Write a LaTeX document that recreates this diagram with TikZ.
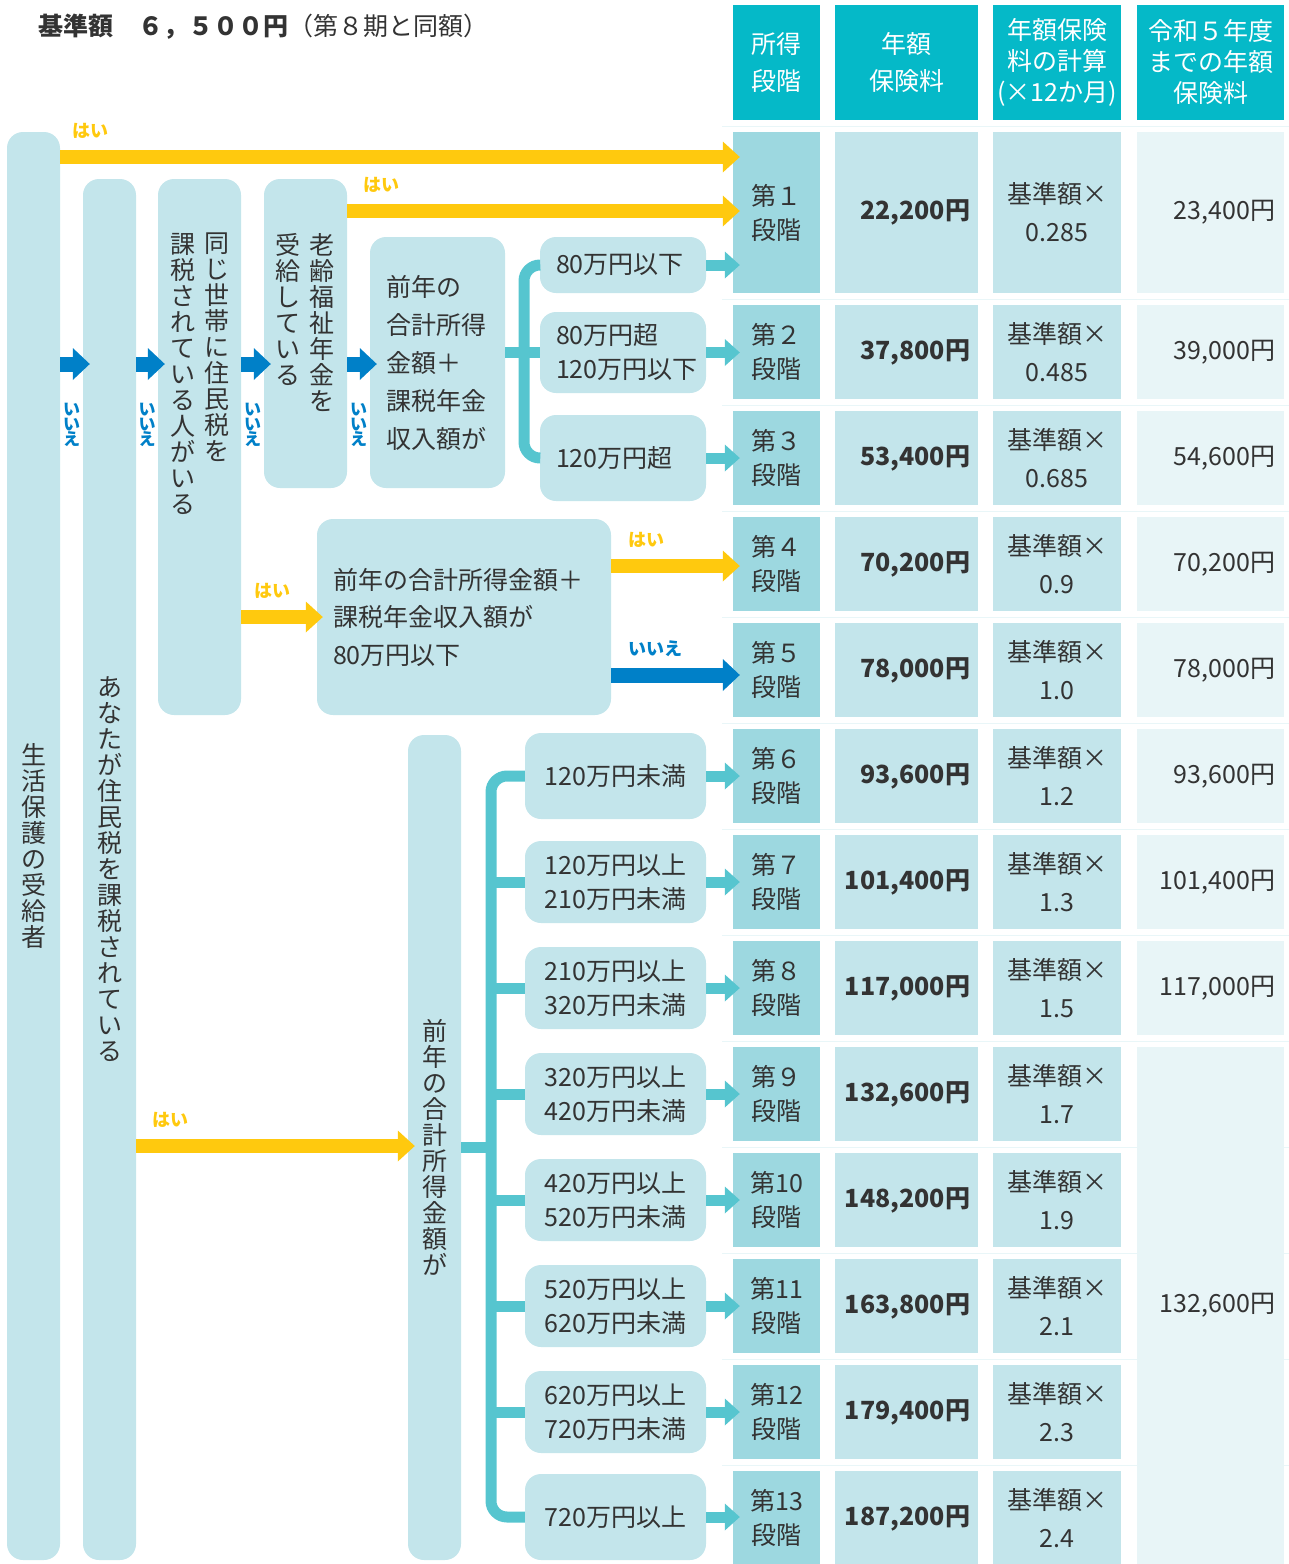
\documentclass[tikz,border=0pt]{standalone}
\usepackage{fontspec}
\setmainfont{Noto Sans CJK JP}
\usetikzlibrary{arrows.meta,positioning}

\definecolor{boxc}{HTML}{C3E5EB}
\definecolor{danc}{HTML}{9DD8E0}
\definecolor{headc}{HTML}{05B9C8}
\definecolor{oldc}{HTML}{E8F5F7}
\definecolor{haic}{HTML}{FFC90E}
\definecolor{iiec}{HTML}{0080C8}
\definecolor{linec}{HTML}{56C5CF}
\definecolor{textc}{HTML}{333333}

\begin{document}
\begin{tikzpicture}[
    x=1pt, y=-1pt,
    every node/.style={text=textc, font=\fontsize{25}{38}\selectfont},
    flowbox/.style={rectangle, rounded corners=16pt, fill=boxc, inner sep=0pt},
    tate/.style={align=center, inner sep=0pt, font=\fontsize{25}{26}\selectfont},
    rangebox/.style={flowbox, text width=134pt, inner xsep=16pt, align=left, font=\fontsize{25}{34}\selectfont},
    incomebox/.style={flowbox, minimum width=181pt, minimum height=82pt, align=center, font=\fontsize{25}{34}\selectfont},
    cell/.style={rectangle, inner sep=0pt, minimum height=94pt},
    dancell/.style={cell, fill=danc, minimum width=87pt, align=center, font=\fontsize{25}{34}\selectfont},
    amtcell/.style={cell, fill=boxc, text width=127pt, inner xsep=8pt, align=right, font=\fontsize{25}{34}\selectfont\bfseries},
    ratecell/.style={cell, fill=boxc, minimum width=128pt, align=center},
    oldcell/.style={cell, fill=oldc, text width=129pt, inner xsep=9pt, align=right},
    headcell/.style={rectangle, fill=headc, text=white, minimum height=115pt, inner sep=0pt, align=center, font=\fontsize{25}{31}\selectfont},
    yarrow/.style={draw=haic, line width=14pt, -{Triangle[length=17pt,width=31pt,line width=0pt]}, shorten >=-7pt},
    barrow/.style={draw=iiec, line width=15pt, -{Triangle[length=17pt,width=32pt,line width=0pt]}, shorten >=-7pt},
    carrow/.style={draw=linec, line width=11pt, -{Triangle[length=15pt,width=27pt,line width=0pt]}, shorten >=-7pt},
    cline/.style={draw=linec, line width=11pt},
    hai/.style={text=haic, font=\fontsize{18}{18}\selectfont\bfseries, anchor=south west, inner sep=0pt, xshift=6pt, yshift=11pt},
    iie/.style={text=iiec, align=center, inner sep=0pt, font=\fontsize{17}{15}\selectfont\bfseries, anchor=north, yshift=-32pt},
    gridline/.style={draw=danc!22, line width=0.8pt}
  ]
  \useasboundingbox (0,0) rectangle (1289,1564);

  % Title
  \node[anchor=west, font=\fontsize{25}{25}\selectfont] (title) at (35,27) {\textbf{基準額　６，５００円}（第８期と同額）};

  % Table header
  \node[headcell, minimum width=87pt, font=\fontsize{25}{37}\selectfont] (h1) at (776.5,62.5) {所得\\段階};
  \node[headcell, minimum width=143pt, font=\fontsize{25}{37}\selectfont] (h2) at (906.5,62.5) {年額\\保険料};
  \node[headcell, minimum width=128pt] (h3) at (1057,62.5) {年額保険\\料の計算\\(×12か月)};
  \node[headcell, minimum width=147pt] (h4) at (1210.5,62.5) {令和５年度\\までの年額\\保険料};

  % Table rows
  \draw[gridline] (722,126) -- (1289,126);
  \foreach \k in {0,...,11}
    \draw[gridline] (722,{299+\k*106}) -- (1289,{299+\k*106});

  \node[dancell, minimum height=161pt] (d1) at (776.5,212.5) {第１\\段階};
  \node[amtcell, minimum height=161pt] (a1) at (906.5,212.5) {22,200円};
  \node[ratecell, minimum height=161pt] (k1) at (1057,212.5) {基準額×\\0.285};
  \node[oldcell, minimum height=161pt] (o1) at (1210.5,212.5) {23,400円};

  \foreach \r/\dn/\amt/\rt in {2/第２/{37,800円}/0.485, 3/第３/{53,400円}/0.685, 4/第４/{70,200円}/0.9,
      5/第５/{78,000円}/1.0, 6/第６/{93,600円}/1.2, 7/第７/{101,400円}/1.3, 8/第８/{117,000円}/1.5,
      9/第９/{132,600円}/1.7, 10/第10/{148,200円}/1.9, 11/第11/{163,800円}/2.1,
      12/第12/{179,400円}/2.3, 13/第13/{187,200円}/2.4}{
    \node[dancell] (d\r) at (776.5,{352+(\r-2)*106}) {\dn\\段階};
    \node[amtcell] (a\r) at (906.5,{352+(\r-2)*106}) {\amt};
    \node[ratecell] (k\r) at (1057,{352+(\r-2)*106}) {基準額×\\\rt};
  }
  \foreach \r/\od in {2/{39,000円}, 3/{54,600円}, 4/{70,200円}, 5/{78,000円}, 6/{93,600円}, 7/{101,400円}, 8/{117,000円}}
    \node[oldcell] (o\r) at (1210.5,{352+(\r-2)*106}) {\od};
  \node[oldcell, minimum height=517pt] (o9) at (1210.5,1305.5) {132,600円};

  % Flow boxes
  \node[flowbox, tate, minimum width=53pt, minimum height=1428pt] (seikatsu) at (33.5,846) {生\\活\\保\\護\\の\\受\\給\\者};
  \node[flowbox, tate, minimum width=53pt, minimum height=1381pt] (kazei) at (109.5,869.5) {あ\\な\\た\\が\\住\\民\\税\\を\\課\\税\\さ\\れ\\て\\い\\る};
  \node[flowbox, minimum width=83pt, minimum height=536pt] (dokyo) at (199.5,447) {};
  \node[tate, anchor=north] (dokyoR) at (217,233) {同\\じ\\世\\帯\\に\\住\\民\\税\\を};
  \node[tate, anchor=north] (dokyoL) at (183,233) {課\\税\\さ\\れ\\て\\い\\る\\人\\が\\い\\る};
  \node[flowbox, minimum width=83pt, minimum height=309pt] (rorei) at (305.5,333.5) {};
  \node[tate, anchor=north] (roreiR) at (322,233) {老\\齢\\福\\祉\\年\\金\\を};
  \node[tate, anchor=north] (roreiL) at (288,233) {受\\給\\し\\て\\い\\る};
  \node[flowbox, minimum height=251pt, text width=103pt, inner xsep=16pt, align=left] (shotoku) at (437.5,362.5) {前年の\\合計所得\\金額＋\\課税年金\\収入額が};

  \node[rangebox, minimum height=56pt] (f1) at (623,265) {80万円以下};
  \node[rangebox, minimum height=81pt] (f2) at (623,352.5) {80万円超\\120万円以下};
  \node[rangebox, minimum height=86pt] (f3) at (623,458) {120万円超};

  \node[flowbox, minimum height=196pt, text width=262pt, inner xsep=16pt, align=left, font=\fontsize{25}{37.5}\selectfont] (kijun80) at (464,617) {前年の合計所得金額＋\\課税年金収入額が\\80万円以下};

  \node[flowbox, tate, minimum width=53pt, minimum height=825pt] (goukei) at (434.5,1147.5) {前\\年\\の\\合\\計\\所\\得\\金\\額\\が};

  \node[incomebox, minimum height=86pt] (i1) at (615.5,776) {120万円未満};
  \foreach \k/\lo/\hi in {2/120/210, 3/210/320, 4/320/420, 5/420/520, 6/520/620, 7/620/720}
    \node[incomebox] (i\k) at (615.5,{882+(\k-2)*106}) {\lo{}万円以上\\\hi{}万円未満};
  \node[incomebox, minimum height=86pt] (i8) at (615.5,1517) {720万円以上};

  % Connections
  \draw[barrow] (seikatsu.east |- 0,364) -- node[iie] {い\\い\\え} (kazei.west |- 0,364);
  \draw[barrow] (kazei.east |- 0,364) -- node[iie] {い\\い\\え} (dokyo.west |- 0,364);
  \draw[barrow] (dokyo.east |- 0,364) -- node[iie] {い\\い\\え} (rorei.west |- 0,364);
  \draw[barrow] (rorei.east |- 0,364) -- node[iie] {い\\い\\え} (shotoku.west |- 0,364);

  \draw[yarrow] (seikatsu.east |- 0,157) -- (d1.west |- 0,157) node[hai, pos=0, xshift=-1pt] {はい};
  \draw[yarrow] (rorei.east |- 0,211) -- (d1.west |- 0,211) node[hai, pos=0, xshift=3pt] {はい};
  \draw[yarrow, shorten >=-6pt] (dokyo.east |- 0,617) -- (kijun80.west |- 0,617) node[hai, pos=0] {はい};
  \draw[yarrow] (kijun80.east |- 0,566) -- (d4.west |- 0,566) node[hai, pos=0, xshift=4pt] {はい};
  \draw[barrow] (kijun80.east |- 0,675) -- (d5.west |- 0,675) node[hai, pos=0, xshift=4pt, text=iiec] {いいえ};
  \draw[yarrow] (kazei.east |- 0,1146) -- (goukei.west |- 0,1146) node[hai, pos=0, xshift=3pt] {はい};

  \draw[cline] (shotoku.east |- f2.west) -- (f2.west);
  \draw[cline, rounded corners=16pt] (f1.west) -- (f1.west -| 524,0) -- (f3.west -| 524,0) -- (f3.west);
  \draw[carrow] (f1.east) -- (d1.west |- f1.east);
  \draw[carrow] (f2.east) -- (d2.west |- f2.east);
  \draw[carrow] (f3.east) -- (d3.west |- f3.east);

  \draw[cline] (goukei.east) -- (goukei.east -| 491,0);
  \draw[cline, rounded corners=16pt] (i1.west) -- (i1.west -| 491,0) -- (i8.west -| 491,0) -- (i8.west);
  \foreach \k in {2,...,7}
    \draw[cline] (i\k.west -| 491,0) -- (i\k.west);
  \foreach \k/\r in {1/6, 2/7, 3/8, 4/9, 5/10, 6/11, 7/12, 8/13}
    \draw[carrow] (i\k.east) -- (d\r.west |- i\k.east);

\end{tikzpicture}
\end{document}
